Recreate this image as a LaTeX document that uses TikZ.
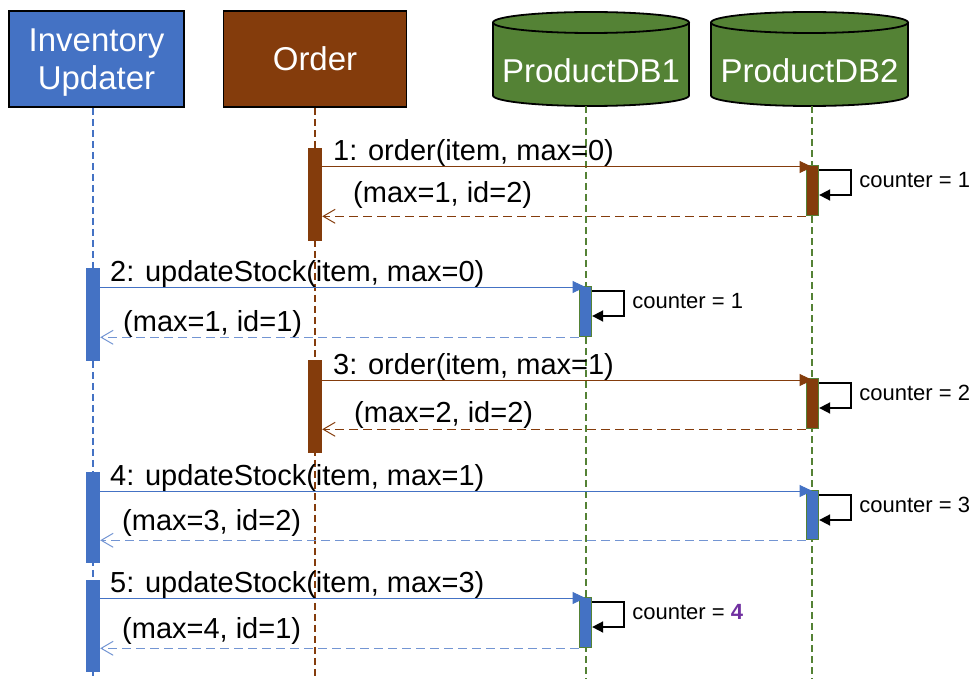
\documentclass[tikz,border=0pt]{standalone}
\usepackage{fontspec}
\setmainfont{Liberation Sans}
\usetikzlibrary{arrows.meta}
\definecolor{invblue}{HTML}{4472C4}
\definecolor{ordbrown}{HTML}{843C0C}
\definecolor{dbgreen}{HTML}{548235}
\definecolor{hilite}{HTML}{7030A0}

\begin{document}
\begin{tikzpicture}[x=1pt,y=-1pt,
  hdr/.style={draw=black, line width=1.8pt, rectangle, inner sep=0pt},
  hdrtext/.style={text=white, font=\fontsize{33}{38}\selectfont, align=center, inner sep=0pt},
  life/.style={line width=1.5pt, dash pattern=on 7pt off 4pt},
  actbar/.style={rectangle, inner sep=0pt, minimum width=14pt, anchor=north},
  dbbar/.style={actbar, minimum width=12pt, minimum height=50pt, draw=dbgreen, line width=1.3pt},
  call/.style={line width=1pt, -{Triangle[length=13pt,width=12pt]}},
  ret/.style={line width=1pt, dash pattern=on 9pt off 5pt, -{Straight Barb[length=12pt,width=14pt]}},
  selfloop/.style={black, line width=1.8pt, -{Triangle[length=11pt,width=11pt]}},
  lbl/.style={font=\fontsize{29}{34}\selectfont, inner sep=0pt, anchor=base west},
  cnt/.style={font=\fontsize{22}{26}\selectfont, inner sep=0pt, anchor=west},
]
\useasboundingbox (0,0) rectangle (974,679);

% ---- participants ----
\node[hdr, fill=invblue, minimum width=175pt, minimum height=96pt] (inv) at (96.5,59) {};
\node[hdrtext] (invtext) at ([yshift=-4pt]inv.center) {Inventory\\Updater};
\node[hdr, fill=ordbrown, minimum width=183pt, minimum height=96pt] (ord) at (315,59) {};
\node[hdrtext] (ordtext) at (ord.center) {Order};

% database cylinders
\fill[dbgreen] (493,22.5) -- (493,95.5) arc[start angle=180,end angle=360,x radius=98pt,y radius=10.5pt]
  -- (689,22.5) arc[start angle=0,end angle=180,x radius=98pt,y radius=10.5pt] -- cycle;
\draw[line width=1.8pt] (493,22.5) -- (493,95.5) arc[start angle=180,end angle=360,x radius=98pt,y radius=10.5pt] -- (689,22.5);
\draw[line width=1.8pt] (591,22.5) ellipse[x radius=98pt,y radius=10.5pt];
\fill[dbgreen] (711,22.5) -- (711,95.5) arc[start angle=180,end angle=360,x radius=98.5pt,y radius=10.5pt]
  -- (908,22.5) arc[start angle=0,end angle=180,x radius=98.5pt,y radius=10.5pt] -- cycle;
\draw[line width=1.8pt] (711,22.5) -- (711,95.5) arc[start angle=180,end angle=360,x radius=98.5pt,y radius=10.5pt] -- (908,22.5);
\draw[line width=1.8pt] (809.5,22.5) ellipse[x radius=98.5pt,y radius=10.5pt];
\node[hdrtext] (db1) at (591,71) {ProductDB1};
\node[hdrtext] (db2) at (809.5,71) {ProductDB2};

% ---- lifelines ----
\coordinate (invL) at (93,679);
\coordinate (ordL) at (315,679);
\coordinate (db1L) at (586,679);
\coordinate (db2L) at (812,679);
\coordinate (db1base) at (586,106);
\coordinate (db2base) at (812,106);
\draw[life, invblue] (invL |- inv.south) -- (invL);
\draw[life, ordbrown] (ordL |- ord.south) -- (ordL);
\draw[life, dbgreen] (db1base) -- (db1L);
\draw[life, dbgreen] (db2base) -- (db2L);

% ---- activation bars ----
\node[actbar, fill=ordbrown, minimum height=93pt] (o1) at (315,148) {};
\node[dbbar, fill=ordbrown] (d2a) at (812.5,165) {};
\node[actbar, fill=invblue, minimum height=93pt] (i2) at (93,268) {};
\node[dbbar, fill=invblue] (d1a) at (585.5,286) {};
\node[actbar, fill=ordbrown, minimum height=93pt] (o3) at (315,360) {};
\node[dbbar, fill=ordbrown] (d2b) at (812.5,378) {};
\node[actbar, fill=invblue, minimum height=91pt] (i4) at (93,472) {};
\node[dbbar, fill=invblue, minimum height=49pt] (d2c) at (812.5,490) {};
\node[actbar, fill=invblue, minimum height=92pt] (i5) at (93,580) {};
\node[dbbar, fill=invblue] (d1b) at (585.5,597) {};

% ---- messages ----
\coordinate (m1) at ([yshift=-2pt]d2a.north);
\coordinate (m2) at ([yshift=-1pt]d1a.north);
\coordinate (m3) at ([yshift=-2pt]d2b.north);
\coordinate (m4) at ([yshift=-1pt]d2c.north);
\coordinate (m5) at ([yshift=-1pt]d1b.north);

\draw[call, ordbrown] (o1.east |- m1) -- (m1);
\draw[ret, ordbrown] (d2a.south west) -- (o1.east |- d2a.south);
\draw[call, invblue] (i2.east |- m2) -- (m2);
\draw[ret, invblue!75] (d1a.south west) -- (i2.east |- d1a.south);
\draw[call, ordbrown] (o3.east |- m3) -- (m3);
\draw[ret, ordbrown] (d2b.south west) -- (o3.east |- d2b.south);
\draw[call, invblue] (i4.east |- m4) -- (m4);
\draw[ret, invblue!75] (d2c.south west) -- (i4.east |- d2c.south);
\draw[call, invblue] (i5.east |- m5) -- (m5);
\draw[ret, invblue!75] (d1b.south west) -- (i5.east |- d1b.south);

% message labels
\node[lbl] (t1) at (333,161) {1: order(item, max=0)};
\node[lbl] (r1) at (353,203) {(max=1, id=2)};
\node[lbl] (t2) at (110,281) {2: updateStock(item, max=0)};
\node[lbl] (r2) at (123,331) {(max=1, id=1)};
\node[lbl] (t3) at (333,374) {3: order(item, max=1)};
\node[lbl] (r3) at (354,422) {(max=2, id=2)};
\node[lbl] (t4) at (110,485) {4: updateStock(item, max=1)};
\node[lbl] (r4) at (122,530) {(max=3, id=2)};
\node[lbl] (t5) at (110,592) {5: updateStock(item, max=3)};
\node[lbl] (r5) at (122,638) {(max=4, id=1)};

% ---- self calls on the databases ----
\foreach \b in {d2a,d1a,d2b,d2c,d1b}{
  \draw[selfloop] ([yshift=-5pt]\b.north east) -- ++(32,0) -- ++(0,25) -- ++(-32,0);
}
\node[cnt] (k1) at ([shift={(40pt,-15pt)}]d2a.north east) {counter = 1};
\node[cnt] (k2) at ([shift={(40pt,-15pt)}]d1a.north east) {counter = 1};
\node[cnt] (k3) at ([shift={(40pt,-15pt)}]d2b.north east) {counter = 2};
\node[cnt] (k4) at ([shift={(40pt,-15pt)}]d2c.north east) {counter = 3};
\node[cnt] (k5) at ([shift={(40pt,-15pt)}]d1b.north east) {counter = \textcolor{hilite}{\textbf{4}}};
\end{tikzpicture}
\end{document}
